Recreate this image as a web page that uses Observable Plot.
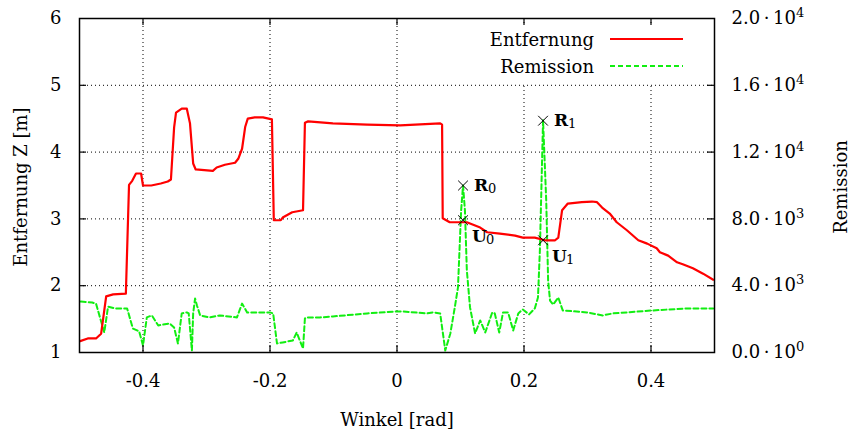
<!DOCTYPE html>
<html>
<head>
<meta charset="utf-8">
<script src="https://cdn.jsdelivr.net/npm/d3@7"></script>
<script src="https://cdn.jsdelivr.net/npm/@observablehq/plot@0.6"></script>
<style>
  body { margin: 0; background: white; }
  #wrap { position: relative; width: 858px; height: 435px; font-family: "DejaVu Serif", serif; }
  #overlay { position: absolute; left: 0; top: 0; pointer-events: none; }
</style>
</head>
<body>
<div id="wrap"></div>
<script>
// Entfernung (distance, m) vs. Winkel (rad)
const xDist = [-0.499,-0.487,-0.474,-0.466,-0.458,-0.447,-0.427,-0.422,-0.417,-0.411,-0.403,-0.400,-0.387,-0.372,-0.361,-0.356,-0.351,-0.348,-0.339,-0.331,-0.326,-0.321,-0.317,-0.290,-0.284,-0.271,-0.255,-0.250,-0.244,-0.239,-0.235,-0.224,-0.211,-0.197,-0.194,-0.183,-0.180,-0.165,-0.148,-0.145,-0.140,-0.101,-0.047,0.005,0.068,0.071,0.072,0.083,0.096,0.110,0.123,0.131,0.142,0.162,0.186,0.198,0.217,0.233,0.249,0.254,0.260,0.269,0.291,0.307,0.315,0.323,0.335,0.346,0.362,0.380,0.394,0.409,0.414,0.427,0.441,0.450,0.466,0.482,0.498];
const zDist = [1.17,1.21,1.21,1.28,1.84,1.87,1.88,3.51,3.57,3.68,3.68,3.50,3.50,3.53,3.56,3.59,4.37,4.59,4.65,4.65,4.43,3.83,3.74,3.72,3.77,3.81,3.84,3.90,4.05,4.38,4.50,4.52,4.52,4.49,2.98,2.98,3.02,3.10,3.13,4.44,4.46,4.43,4.41,4.40,4.43,4.41,3.01,2.95,2.95,2.95,2.90,2.87,2.80,2.78,2.75,2.72,2.72,2.68,2.68,2.72,3.13,3.23,3.25,3.26,3.25,3.17,3.08,2.95,2.83,2.68,2.63,2.56,2.50,2.45,2.35,2.32,2.26,2.18,2.09];

// Remission vs. Winkel (rad)
const xRem = [-0.498,-0.480,-0.474,-0.461,-0.455,-0.444,-0.425,-0.416,-0.406,-0.400,-0.394,-0.386,-0.376,-0.358,-0.351,-0.345,-0.339,-0.331,-0.328,-0.323,-0.321,-0.318,-0.315,-0.310,-0.295,-0.279,-0.252,-0.244,-0.236,-0.200,-0.195,-0.189,-0.180,-0.164,-0.158,-0.148,-0.145,-0.142,-0.121,-0.101,-0.047,0.000,0.009,0.047,0.057,0.068,0.076,0.084,0.091,0.096,0.101,0.104,0.107,0.110,0.115,0.123,0.131,0.139,0.150,0.154,0.161,0.167,0.175,0.183,0.191,0.198,0.208,0.217,0.222,0.225,0.230,0.235,0.238,0.241,0.246,0.254,0.261,0.299,0.324,0.340,0.403,0.457,0.498];
const rem = [3050,2990,2930,1200,2750,2640,2640,1440,1260,420,2100,2220,1620,1740,1500,540,2340,2400,2340,120,2340,3230,2810,2220,2100,2220,2100,2930,2400,2400,2340,540,600,720,1200,240,2040,2100,2100,2160,2340,2460,2460,2340,2400,2340,120,1140,2700,3890,8500,10000,8500,4910,2700,1140,1920,1200,2400,2340,1200,2400,2400,1320,2340,2580,2280,2640,3290,6110,13900,9100,4310,3110,2870,3290,2520,2400,2220,2340,2520,2640,2640];

// Marked points
const markX = [0.104, 0.104, 0.230, 0.230];
const markZ = [3.50, 2.98, 4.47, 2.68];
const markLetter = ["R", "U", "R", "U"];
const markSub = ["0", "0", "1", "1"];

// Ticks
const xTicks = [-0.4, -0.2, 0, 0.2, 0.4];
const yTicks = [1, 2, 3, 4, 5, 6];
const yGrid = [2, 3, 4, 5];
const remTickMantissa = ["0.0", "4.0", "8.0", "1.2", "1.6", "2.0"];
const remTickExponent = ["0", "3", "3", "4", "4", "4"];
const remPerUnit = 4000; // right axis: 4000 per left-axis unit, 0 at Z = 1

const distData = xDist.map((x, i) => ({x, z: zDist[i]}));
const remData = xRem.map((x, i) => ({x, r: rem[i]}));
const marks = markX.map((x, i) => ({x, z: markZ[i], letter: markLetter[i], sub: markSub[i]}));

const W = 858, H = 435, mL = 79, mR = 144, mT = 18, mB = 83;
const fw = W - mL - mR, fh = H - mT - mB;
const tk = 7;
const FS = 18;

const chart = Plot.plot({
  width: W, height: H,
  marginLeft: mL, marginRight: mR, marginTop: mT, marginBottom: mB,
  style: {fontFamily: "DejaVu Serif, serif", fontSize: FS + "px", color: "black", background: "white", overflow: "visible"},
  x: {domain: [-0.5, 0.5]},
  y: {domain: [1, 6]},
  marks: [
    Plot.gridX(xTicks, {stroke: "black", strokeOpacity: 1, strokeWidth: 1, strokeDasharray: "1,3"}),
    Plot.gridY(yGrid, {stroke: "black", strokeOpacity: 1, strokeWidth: 1, strokeDasharray: "1,3"}),
    Plot.line(remData, {x: "x", y: d => 1 + d.r / remPerUnit, stroke: "#11ee11", strokeWidth: 2, strokeDasharray: "5,3"}),
    Plot.line(distData, {x: "x", y: "z", stroke: "#ff0000", strokeWidth: 2.2}),
    Plot.dot(marks, {x: "x", y: "z", symbol: "times", r: 4.5, stroke: "black", strokeWidth: 1}),
    Plot.text(marks.filter(d => d.letter === "R"), {x: "x", y: "z", text: "letter", dx: 11, dy: 0, textAnchor: "start", lineAnchor: "middle", fontWeight: "bold", fontSize: 17}),
    Plot.text(marks.filter(d => d.letter === "R"), {x: "x", y: "z", text: "sub", dx: 25, dy: 3, textAnchor: "start", lineAnchor: "middle", fontSize: 13}),
    Plot.text(marks.filter(d => d.letter === "U"), {x: "x", y: "z", text: "letter", dx: 9, dy: 16, textAnchor: "start", lineAnchor: "middle", fontWeight: "bold", fontSize: 17}),
    Plot.text(marks.filter(d => d.letter === "U"), {x: "x", y: "z", text: "sub", dx: 23, dy: 20, textAnchor: "start", lineAnchor: "middle", fontSize: 13}),
    Plot.tickX(xTicks, {x: d => d, insetTop: fh - tk, stroke: "black", strokeWidth: 1.2}),
    Plot.tickX(xTicks, {x: d => d, insetBottom: fh - tk, stroke: "black", strokeWidth: 1.2}),
    Plot.tickY(yGrid, {y: d => d, insetRight: fw - tk, stroke: "black", strokeWidth: 1.2}),
    Plot.tickY(yGrid, {y: d => d, insetLeft: fw - tk, stroke: "black", strokeWidth: 1.2}),
    Plot.frame({stroke: "black", strokeWidth: 1.5}),
    Plot.axisX({ticks: xTicks, tickSize: 0, tickPadding: 22, tickFormat: d => String(d), label: null}),
    Plot.axisY({anchor: "left", ticks: yTicks, tickSize: 0, tickPadding: 18, tickFormat: d => String(d), label: null}),
    Plot.axisY({anchor: "right", ticks: yTicks, tickSize: 0, tickPadding: 17, tickFormat: d => remTickMantissa[yTicks.indexOf(d)] + "\u2009·\u200910^" + remTickExponent[yTicks.indexOf(d)], label: null})
  ]
});
const wrap = document.getElementById("wrap");
wrap.appendChild(chart);

// Superscript exponents on the right-axis tick labels
chart.querySelectorAll("text").forEach(t => {
  const s = t.textContent;
  const k = s.indexOf("^");
  if (k < 0) return;
  const base = s.slice(0, k), exp = s.slice(k + 1);
  t.textContent = "";
  const a = document.createElementNS("http://www.w3.org/2000/svg", "tspan");
  a.textContent = base;
  const b = document.createElementNS("http://www.w3.org/2000/svg", "tspan");
  b.textContent = exp;
  b.setAttribute("dy", "-7");
  b.setAttribute("font-size", "13");
  t.appendChild(a);
  t.appendChild(b);
});

// Overlay: legend (opaque key) and axis titles
const ns = "http://www.w3.org/2000/svg";
const ov = document.createElementNS(ns, "svg");
ov.setAttribute("id", "overlay");
ov.setAttribute("width", W);
ov.setAttribute("height", H);
ov.setAttribute("font-family", "DejaVu Serif, serif");
ov.setAttribute("font-size", FS);
function el(tag, attrs, text) {
  const e = document.createElementNS(ns, tag);
  for (const k in attrs) e.setAttribute(k, attrs[k]);
  if (text != null) e.textContent = text;
  ov.appendChild(e);
  return e;
}
el("rect", {x: 476, y: 26, width: 236, height: 57, fill: "white"});
const legend = [
  {label: "Entfernung", color: "#ff0000", dash: null, w: 2.2},
  {label: "Remission", color: "#11ee11", dash: "5,3", w: 2}
];
legend.forEach((d, i) => {
  const y = 39 + i * 27;
  el("text", {x: 594, y: y, "text-anchor": "end", "dominant-baseline": "central", fill: "black"}, d.label);
  const a = {x1: 610, x2: 683, y1: y, y2: y, stroke: d.color, "stroke-width": d.w};
  if (d.dash) a["stroke-dasharray"] = d.dash;
  el("line", a);
});
el("text", {x: 397, y: 419, "text-anchor": "middle", "dominant-baseline": "central", fill: "black"}, "Winkel [rad]");
el("text", {x: 0, y: 0, transform: "translate(20,187) rotate(-90)", "text-anchor": "middle", "dominant-baseline": "central", fill: "black"}, "Entfernung Z [m]");
el("text", {x: 0, y: 0, transform: "translate(840,187) rotate(-90)", "text-anchor": "middle", "dominant-baseline": "central", fill: "black"}, "Remission");
wrap.appendChild(ov);
</script>
</body>
</html>
